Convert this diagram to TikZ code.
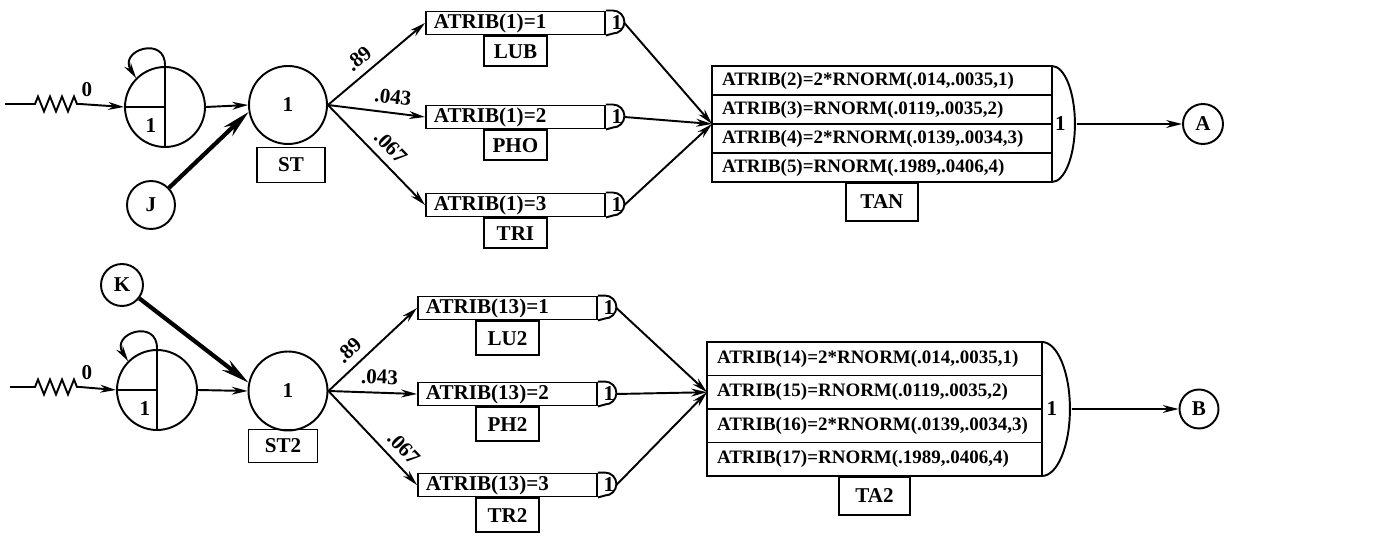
\documentclass[tikz,border=0pt]{standalone}
\usepackage{fontspec}
\setmainfont{Liberation Serif}
\usetikzlibrary{arrows.meta,decorations.pathmorphing,positioning}

\begin{document}
\begin{tikzpicture}[
    x=0.02cm, y=-0.02cm,
    font=\bfseries\fontsize{12}{14}\selectfont,
    line width=1.1pt,
    >={Stealth[length=9pt,width=4.5pt]},
    circ/.style={draw, circle, inner sep=0pt},
    lbl/.style={draw, rectangle, inner sep=0pt, minimum width=1.26cm},
    act/.style={draw, rectangle, inner xsep=0.16cm, inner ysep=0pt,
                text width=3.26cm, minimum height=0.46cm, align=left},
    row/.style={draw, rectangle, inner xsep=0.2cm, inner ysep=0pt, outer sep=0pt,
                align=left, anchor=north west,
                font=\bfseries\fontsize{10.8}{12}\selectfont},
    thk/.style={line width=2.4pt, -{Stealth[length=16pt,width=7pt]}},
    zig/.style={decoration={zigzag, segment length=0.24cm, amplitude=0.15cm}}
]
\useasboundingbox (0,0) rectangle (1374,547);

% --- OBERER ZWEIG: Quelle, ST ---
\coordinate (src1) at (5,104);
\node[circ, minimum size=1.6cm] (cr1) at (165,107) {};
\draw (cr1.north) -- (cr1.south);
\draw (cr1.west) -- (cr1.center);
\node (q1) at (151,126) {1};
\draw[->] (src1) -- ++(30,0) decorate[zig] {-- ++(45,0)} -- (cr1.west);
\node (z1) at (87,90) {0};
\draw[->] (cr1.north) .. controls (166,35) and (118,50) .. (cr1.135);

\node[circ, minimum size=1.56cm] (st) at (288,105) {1};
\node[lbl, minimum width=1.36cm, minimum height=0.7cm] (stl) at (291,165) {ST};
\draw[->] (cr1.east) -- (st.west);
\node[circ, minimum size=0.96cm] (J) at (151,205) {J};
\draw[thk] (J) -- (st.190);

% TAN
\node[row, text width=6.4cm, minimum height=0.58cm] (t1) at (712,66) {ATRIB(2)=2*RNORM(.014,.0035,1)};
\node[row, text width=6.4cm, minimum height=0.58cm] (t2) at (t1.south west) {ATRIB(3)=RNORM(.0119,.0035,2)};
\node[row, text width=6.4cm, minimum height=0.58cm] (t3) at (t2.south west) {ATRIB(4)=2*RNORM(.0139,.0034,3)};
\node[row, text width=6.4cm, minimum height=0.58cm] (t4) at (t3.south west) {ATRIB(5)=RNORM(.1989,.0406,4)};
\draw (t1.north east) arc[start angle=90, end angle=-90, x radius=0.46cm, y radius=1.16cm];
\node (k1) at ([xshift=0.17cm]t2.south east) {1};
\node[lbl, minimum width=1.44cm, minimum height=0.76cm, below=0pt of t4] (tanl) {TAN};
\node[circ, minimum size=0.8cm] (A) at (1203,124) {A};
\coordinate (o1) at ([xshift=0.5cm]t2.south east);
\draw[->] (o1) -- (A);

% LUB / PHO / TRI
\foreach \i/\y/\p/\pp/\nm in {1/23/.89/0.42/LUB, 2/117/.043/0.65/PHO, 3/205/.067/0.53/TRI} {
  \node[act, anchor=west] (a\i) at (425,\y) {ATRIB(1)=\i};
  \draw (a\i.north east) -- ++(0.14cm,0) arc[start angle=90, end angle=-90, radius=0.23cm] -- (a\i.south east);
  \node (c\i) at ([xshift=0.22cm]a\i.east) {1};
  \node[lbl, minimum height=0.6cm, below=0pt of a\i] (l\i) {\nm};
  \coordinate (e\i) at ([xshift=0.37cm]a\i.east);
  \draw[->] (st.east) -- (a\i.west) node[pos=\pp, above=1pt, sloped] (p\i) {\p};
  \draw[->] (e\i) -- (t2.south west);
}

% --- UNTERER ZWEIG: Quelle, ST2 ---
\coordinate (src2) at (10,387);
\node[circ, minimum size=1.6cm] (cr2) at (157,390) {};
\draw (cr2.north) -- (cr2.south);
\draw (cr2.west) -- (cr2.center);
\node (q2) at (145,409) {1};
\draw[->] (src2) -- ++(25,0) decorate[zig] {-- ++(45,0)} -- (cr2.west);
\node (z2) at (87,373) {0};
\draw[->] (cr2.north) .. controls (158,318) and (110,333) .. (cr2.135);

\node[circ, minimum size=1.58cm] (st2) at (288,391) {1};
\node[lbl, minimum width=1.38cm, minimum height=0.66cm] (st2l) at (283,446) {ST2};
\draw[->] (cr2.east) -- (st2.west);
\node[circ, minimum size=0.84cm] (K) at (122,285) {K};
\draw[thk] (K) -- (st2.168);

% TA2
\node[row, text width=6.3cm, minimum height=0.67cm] (u1) at (707,342) {ATRIB(14)=2*RNORM(.014,.0035,1)};
\node[row, text width=6.3cm, minimum height=0.67cm] (u2) at (u1.south west) {ATRIB(15)=RNORM(.0119,.0035,2)};
\node[row, text width=6.3cm, minimum height=0.67cm] (u3) at (u2.south west) {ATRIB(16)=2*RNORM(.0139,.0034,3)};
\node[row, text width=6.3cm, minimum height=0.67cm] (u4) at (u3.south west) {ATRIB(17)=RNORM(.1989,.0406,4)};
\draw (u1.north east) arc[start angle=90, end angle=-90, x radius=0.56cm, y radius=1.34cm];
\node (k2) at ([xshift=0.2cm]u2.south east) {1};
\node[lbl, minimum width=1.42cm, minimum height=0.76cm, below=0pt of u4] (ta2l) {TA2};
\node[circ, minimum size=0.78cm] (B) at (1199,409) {B};
\coordinate (o2) at ([xshift=0.6cm]u2.south east);
\draw[->] (o2) -- (B);

% LU2 / PH2 / TR2
\foreach \i/\y/\p/\pp/\nm in {1/308/.89/0.35/LU2, 2/394/.043/0.57/PH2, 3/485/.067/0.72/TR2} {
  \node[act, anchor=west] (b\i) at (417,\y) {ATRIB(13)=\i};
  \draw (b\i.north east) -- ++(0.14cm,0) arc[start angle=90, end angle=-90, radius=0.23cm] -- (b\i.south east);
  \node (d\i) at ([xshift=0.22cm]b\i.east) {1};
  \node[lbl, minimum height=0.68cm, below=0pt of b\i] (m\i) {\nm};
  \coordinate (f\i) at ([xshift=0.37cm]b\i.east);
  \draw[->] (st2.east) -- (b\i.west) node[pos=\pp, above=1pt, sloped] (r\i) {\p};
  \draw[->] (f\i) -- (u2.west);
}

\end{tikzpicture}
\end{document}
